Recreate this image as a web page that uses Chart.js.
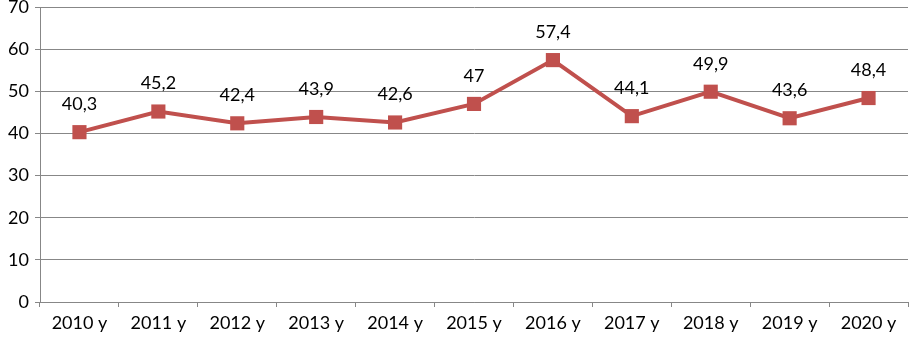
<!DOCTYPE html>
<html>
<head>
<meta charset="utf-8">
<script src="https://cdn.jsdelivr.net/npm/chart.js@4"></script>
<style>
  html, body { margin: 0; padding: 0; background: #fff; }
  #wrap { width: 911px; height: 340px; }
</style>
</head>
<body>
<div id="wrap"><canvas id="chart"></canvas></div>
<script>
const years = ['2010 y', '2011 y', '2012 y', '2013 y', '2014 y', '2015 y', '2016 y', '2017 y', '2018 y', '2019 y', '2020 y'];
const values = [40.3, 45.2, 42.4, 43.9, 42.6, 47, 57.4, 44.1, 49.9, 43.6, 48.4];
const yTicks = [0, 10, 20, 30, 40, 50, 60, 70];

const lineColor = '#C0504D';
const gridColor = '#878787';
const fontFamily = 'Lato, "Open Sans", sans-serif';

// values shown above each marker, with a comma as decimal separator
const valueLabels = {
  id: 'valueLabels',
  afterDatasetsDraw(chart) {
    const ctx = chart.ctx;
    const meta = chart.getDatasetMeta(0);
    ctx.save();
    ctx.font = '18px ' + fontFamily;
    ctx.fillStyle = '#000';
    ctx.textAlign = 'center';
    ctx.textBaseline = 'middle';
    meta.data.forEach((pt, i) => {
      const txt = String(values[i]).replace('.', ',');
      ctx.fillText(txt, pt.x, pt.y - 28);
    });
    ctx.restore();
  }
};

new Chart(document.getElementById('chart'), {
  type: 'line',
  data: {
    labels: years,
    datasets: [{
      data: values,
      borderColor: lineColor,
      backgroundColor: lineColor,
      borderWidth: 4,
      pointStyle: 'rect',
      pointRadius: 10,
      pointHoverRadius: 10,
      pointBorderWidth: 0,
      tension: 0
    }]
  },
  options: {
    responsive: true,
    maintainAspectRatio: false,
    animation: false,
    layout: { autoPadding: false, padding: { top: 7, right: 3, left: 0, bottom: 0 } },
    plugins: {
      legend: { display: false },
      tooltip: { enabled: false }
    },
    scales: {
      x: {
        offset: true,
        grid: {
          offset: true,
          drawOnChartArea: false,
          drawTicks: true,
          tickLength: 5,
          color: gridColor
        },
        border: { color: gridColor, width: 1 },
        ticks: { color: '#000', font: { family: fontFamily, size: 18 }, padding: 5, maxRotation: 0, autoSkip: false },
        afterFit: s => { s.height = 38; s.paddingLeft = 0; s.paddingRight = 0; }
      },
      y: {
        min: 0,
        max: 70,
        afterBuildTicks: s => { s.ticks = yTicks.map(v => ({ value: v })); },
        grid: { color: gridColor, tickLength: 5, drawTicks: true },
        border: { color: gridColor, width: 1 },
        ticks: { color: '#000', font: { family: fontFamily, size: 18 }, padding: 6 },
        afterFit: s => { s.width = 40; s.paddingTop = 0; s.paddingBottom = 0; }
      }
    }
  },
  plugins: [valueLabels]
});
</script>
</body>
</html>
